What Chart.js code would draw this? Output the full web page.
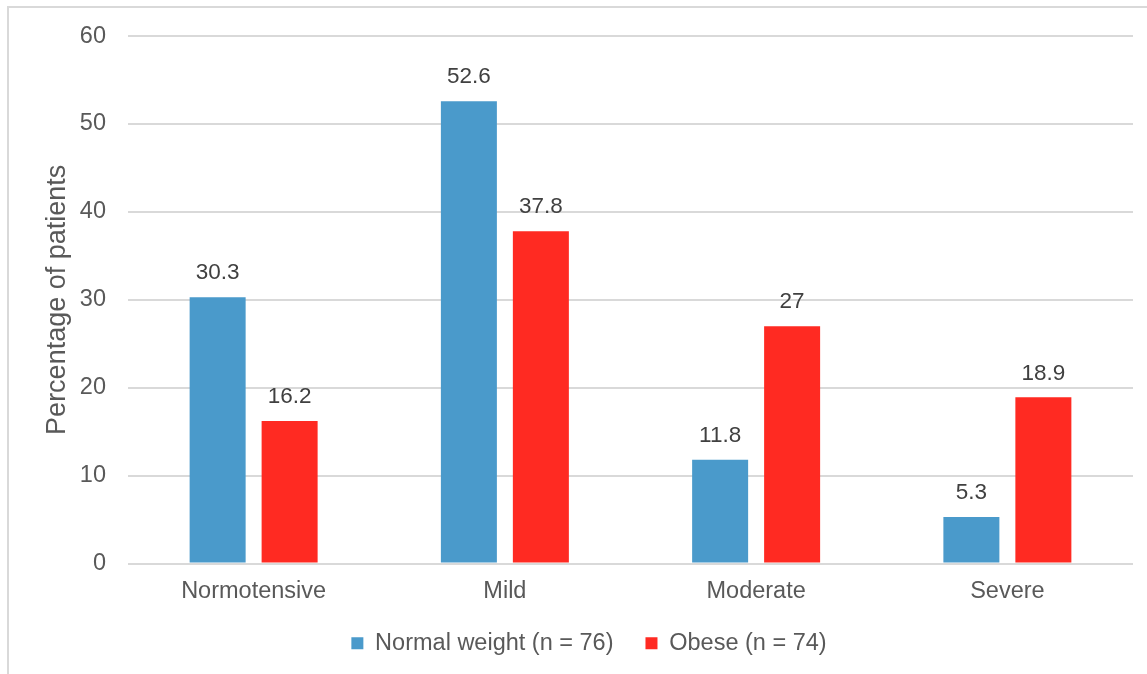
<!DOCTYPE html>
<html>
<head>
<meta charset="utf-8">
<script src="https://cdn.jsdelivr.net/npm/chart.js@4.4.0/dist/chart.umd.min.js"></script>
<style>
  html, body { margin: 0; padding: 0; background: #fff; }
  #wrap { position: relative; width: 1147px; height: 674px; overflow: hidden; }
  #frame { position: absolute; left: 7px; top: 6px; width: 1200px; height: 700px;
           border-top: 2px solid #d9d9d9; border-left: 2px solid #d9d9d9; }
  #grafico { position: absolute; left: 0; top: 0; }
</style>
</head>
<body>
<div id="wrap">
  <div id="frame"></div>
  <canvas id="grafico" width="1147" height="674"></canvas>
</div>
<script>
const categorias = ["Normotensive", "Mild", "Moderate", "Severe"];
const pesoNormal = [30.3, 52.6, 11.8, 5.3];
const obesos = [16.2, 37.8, 27, 18.9];
const etiquetasSeries = ["Normal weight (n = 76)", "Obese (n = 74)"];

const fuente = "'Liberation Sans', Arial, sans-serif";
const gris = "#595959";

// etiquetas de valor encima de cada barra
const valoresEncima = {
  id: "valoresEncima",
  afterDatasetsDraw(chart) {
    const ctx = chart.ctx;
    ctx.save();
    ctx.font = "22.5px " + fuente;
    ctx.fillStyle = "#404040";
    ctx.textAlign = "center";
    ctx.textBaseline = "middle";
    chart.data.datasets.forEach((ds, i) => {
      chart.getDatasetMeta(i).data.forEach((bar, j) => {
        ctx.fillText(String(ds.data[j]), bar.x, bar.y - 24);
      });
    });
    ctx.restore();
  }
};

new Chart(document.getElementById("grafico"), {
  type: "bar",
  data: {
    labels: categorias,
    datasets: [
      { label: etiquetasSeries[0], data: pesoNormal, backgroundColor: "#4a9acb" },
      { label: etiquetasSeries[1], data: obesos, backgroundColor: "#ff2a22" }
    ]
  },
  options: {
    responsive: false,
    animation: false,
    categoryPercentage: 0.573,
    barPercentage: 0.778,
    layout: { padding: { left: 45, right: 14, top: 32, bottom: 9 } },
    plugins: {
      legend: {
        position: "bottom",
        labels: {
          font: { size: 23.5, family: fuente },
          color: gris,
          boxWidth: 12,
          boxHeight: 12,
          padding: 32
        }
      },
      tooltip: { enabled: false }
    },
    scales: {
      x: {
        grid: { display: false },
        border: { display: false },
        ticks: { font: { size: 23.5, family: fuente }, color: gris, padding: 6 },
        afterFit(scale) { scale.height = 36; }
      },
      y: {
        min: 0,
        max: 60,
        ticks: { stepSize: 10, font: { size: 23.5, family: fuente }, color: gris, padding: 22 },
        grid: { color: "#d9d9d9", lineWidth: 2, drawTicks: false },
        border: { display: false },
        title: {
          display: true,
          text: "Percentage of patients",
          font: { size: 27, family: fuente },
          color: gris,
          padding: { top: -4, bottom: 0 }
        },
        afterFit(scale) { scale.width = 83; }
      }
    }
  },
  plugins: [valoresEncima]
});
</script>
</body>
</html>
